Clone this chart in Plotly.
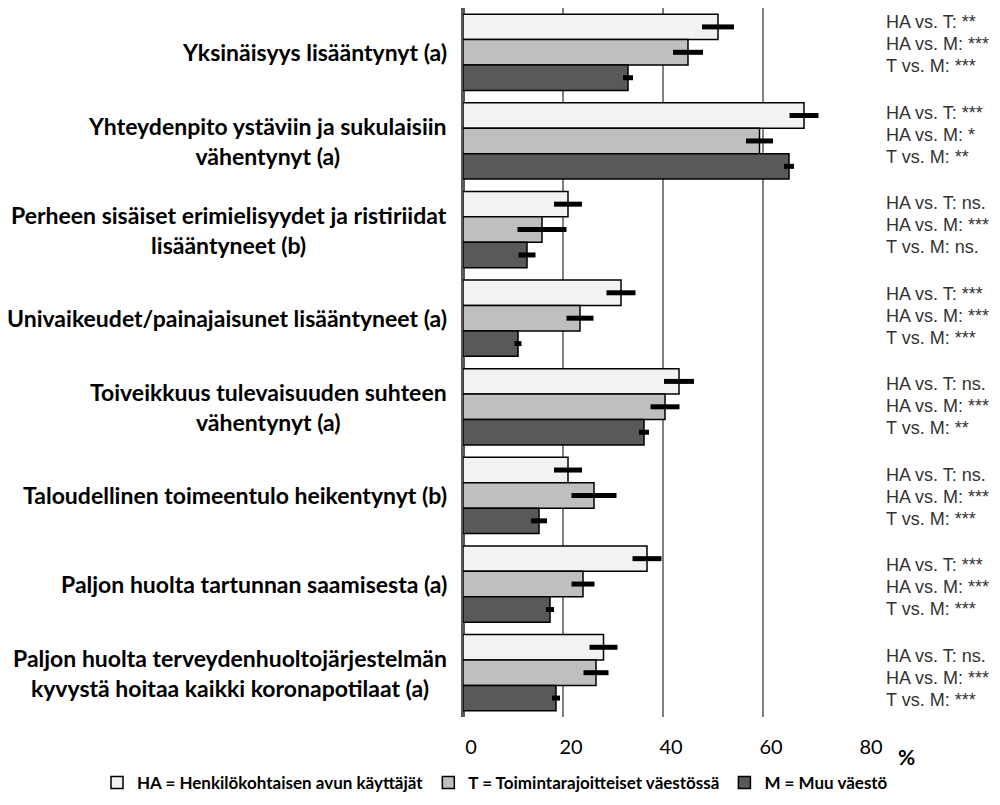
import plotly.graph_objects as go

categories = [
    "Yksinäisyys lisääntynyt (a)",
    "Yhteydenpito ystäviin ja sukulaisiin<br>vähentynyt (a)",
    "Perheen sisäiset erimielisyydet ja ristiriidat<br>lisääntyneet (b)",
    "Univaikeudet/painajaisunet lisääntyneet (a)",
    "Toiveikkuus tulevaisuuden suhteen<br>vähentynyt (a)",
    "Taloudellinen toimeentulo heikentynyt (b)",
    "Paljon huolta tartunnan saamisesta (a)",
    "Paljon huolta terveydenhuoltojärjestelmän<br>kyvystä hoitaa kaikki koronapotilaat (a)",
]
cat_ids = [f"c{i}" for i in range(len(categories))]

series_names = [
    "HA = Henkilökohtaisen avun käyttäjät",
    "T = Toimintarajoitteiset väestössä",
    "M = Muu väestö",
]
ha_values = [51.0, 68.2, 21.0, 31.6, 43.2, 21.0, 36.8, 28.1]
ha_errors = [3.2, 2.9, 2.8, 2.9, 3.0, 2.8, 2.9, 2.8]
t_values = [45.0, 59.3, 15.8, 23.4, 40.4, 26.2, 24.0, 26.6]
t_errors = [3.0, 2.7, 4.9, 2.7, 2.9, 4.5, 2.3, 2.5]
m_values = [33.0, 65.2, 12.8, 11.0, 36.2, 15.2, 17.4, 18.6]
m_errors = [1.0, 1.0, 1.7, 0.7, 1.0, 1.6, 0.8, 0.8]

significance = [
    ["HA vs. T: **", "HA vs. M: ***", "T vs. M: ***"],
    ["HA vs. T: ***", "HA vs. M: *", "T vs. M: **"],
    ["HA vs. T: ns.", "HA vs. M: ***", "T vs. M: ns."],
    ["HA vs. T: ***", "HA vs. M: ***", "T vs. M: ***"],
    ["HA vs. T: ns.", "HA vs. M: ***", "T vs. M: **"],
    ["HA vs. T: ns.", "HA vs. M: ***", "T vs. M: ***"],
    ["HA vs. T: ***", "HA vs. M: ***", "T vs. M: ***"],
    ["HA vs. T: ns.", "HA vs. M: ***", "T vs. M: ***"],
]

x_ticks = [0, 20, 40, 60, 80]
colors = ["#f2f2f2", "#bfbfbf", "#595959"]

# page body has an 8px margin, so the figure is drawn 8px smaller
W, H = 992, 797
ML, MR, MT, MB = 455, 137, 0, 88
plot_h = H - MT - MB

fig = go.Figure()
for name, vals, errs, col in zip(series_names,
                                 [ha_values, t_values, m_values],
                                 [ha_errors, t_errors, m_errors], colors):
    fig.add_trace(go.Bar(
        y=cat_ids, x=vals, orientation="h", name=f"<b>{name}</b>",
        marker=dict(color=col, line=dict(color="#000000", width=1.5)),
        error_x=dict(type="data", array=errs, color="#000000", thickness=5, width=0),
    ))

label_font = dict(family="Lato, Carlito, sans-serif", size=23, color="#000000")
for cid, label in zip(cat_ids, categories):
    fig.add_annotation(
        x=0, xref="paper", y=cid, yref="y", text=f"<b>{label}</b>",
        xanchor="right", yanchor="middle", align="center", xshift=-14,
        showarrow=False, font=label_font,
    )

# significance notes, three lines per group
sig_top_px, sig_bot_px = 36.3, 670.0
n = len(significance)
for i, lines in enumerate(significance):
    ypx = sig_top_px + (sig_bot_px - sig_top_px) * i / (n - 1)
    yp = (plot_h - ypx) / plot_h
    for j, line in enumerate(lines):
        fig.add_annotation(
            x=1.0, xref="paper", y=yp, yref="paper", text=line,
            xanchor="left", yanchor="middle", align="left", xshift=21,
            yshift=22 * (1 - j), showarrow=False,
            font=dict(family="Liberation Sans, Arial, sans-serif", size=18, color="#333333"),
        )

fig.add_annotation(
    x=1.109, xref="paper", y=-0.0564, yref="paper", text="<b>%</b>",
    xanchor="center", yanchor="middle", showarrow=False,
    font=dict(family="Lato, Carlito, sans-serif", size=21, color="#000000"),
)

fig.update_layout(
    width=W, height=H,
    margin=dict(l=ML, r=MR, t=MT, b=MB, autoexpand=False),
    paper_bgcolor="white", plot_bgcolor="white",
    barmode="group", bargap=0.14, bargroupgap=0,
    showlegend=True,
    legend=dict(
        orientation="h", xref="paper", yref="paper",
        x=-0.915, xanchor="left", y=-0.0931, yanchor="middle",
        bgcolor="rgba(0,0,0,0)",
        font=dict(family="Lato, Carlito, sans-serif", size=17, color="#000000"),
        itemwidth=30, traceorder="normal",
    ),
    xaxis=dict(
        range=[0, 80], tickvals=x_ticks, showgrid=True, gridcolor="#808080", gridwidth=2,
        zeroline=True, zerolinecolor="#595959", zerolinewidth=3.5,
        showline=False, ticks="", ticklabelstandoff=16, ticklabelshift=8,
        tickfont=dict(family="Lato, Carlito, sans-serif", size=20, color="#000000"),
    ),
    yaxis=dict(
        categoryorder="array", categoryarray=cat_ids, autorange="reversed",
        showticklabels=False, showgrid=False, zeroline=False, ticks="",
    ),
)

fig.write_html("out.html")
